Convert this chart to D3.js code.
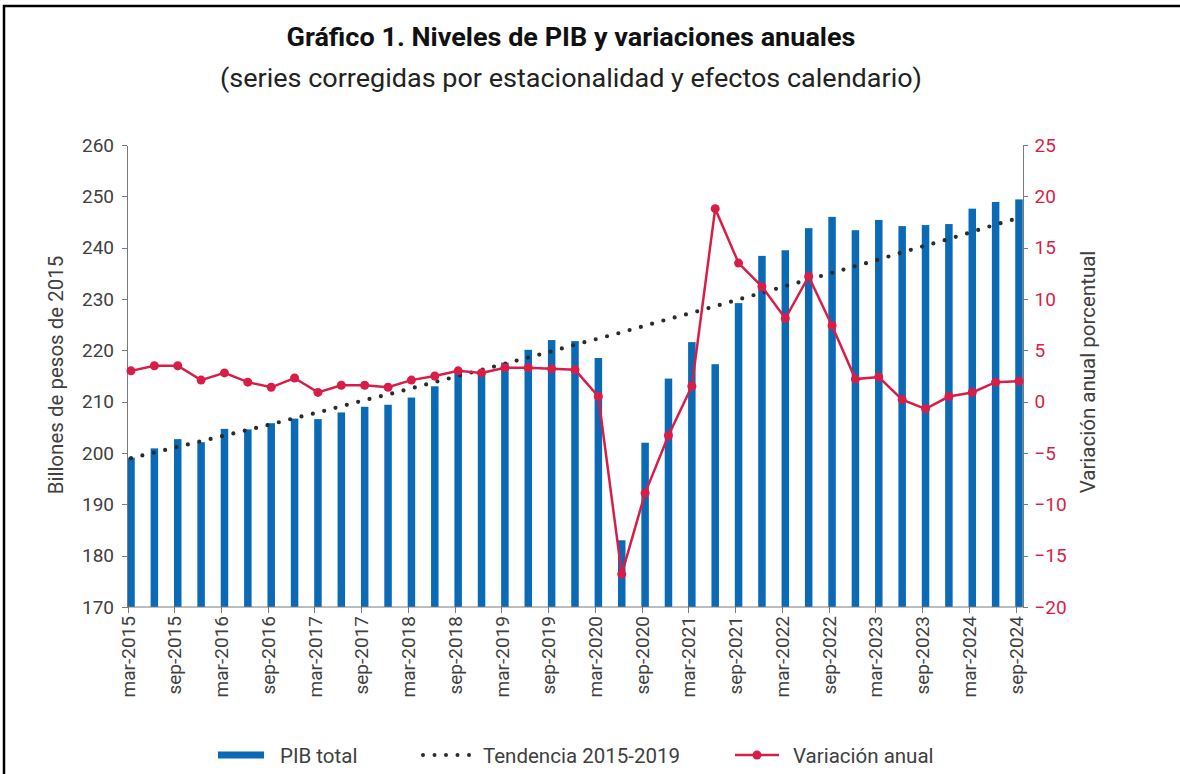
<!DOCTYPE html>
<html lang="es">
<head>
<meta charset="UTF-8">
<title>Niveles de PIB y variaciones anuales</title>
<script src="https://cdn.jsdelivr.net/npm/d3@7"></script>
<style>
    body { margin: 0; background: #fff; font-family: Roboto, sans-serif; }
    .axis path, .axis line { stroke: #7a7a7a; shape-rendering: crispEdges; }
    .axis text { fill: #404040; font-size: 19px; font-family: Roboto, sans-serif; }
    .axis.right text { fill: #d81e48; }
    .lbl { fill: #404040; font-family: Roboto, sans-serif; }
</style>
</head>
<body>
<div id="chart"></div>
<script>
// trimestres (mar, jun, sep, dic) 2015 - sep 2024
var quarters = [
    "mar-2015","jun-2015","sep-2015","dic-2015",
    "mar-2016","jun-2016","sep-2016","dic-2016",
    "mar-2017","jun-2017","sep-2017","dic-2017",
    "mar-2018","jun-2018","sep-2018","dic-2018",
    "mar-2019","jun-2019","sep-2019","dic-2019",
    "mar-2020","jun-2020","sep-2020","dic-2020",
    "mar-2021","jun-2021","sep-2021","dic-2021",
    "mar-2022","jun-2022","sep-2022","dic-2022",
    "mar-2023","jun-2023","sep-2023","dic-2023",
    "mar-2024","jun-2024","sep-2024"
];

// PIB total, billones de pesos de 2015
var pib = [
    199.1, 200.9, 202.7, 202.1, 204.7, 204.6, 205.8, 206.7, 206.6, 207.9,
    209.0, 209.4, 210.8, 213.0, 216.2, 216.0, 217.6, 220.1, 222.0, 221.8,
    218.5, 183.0, 202.0, 214.5, 221.6, 217.3, 229.2, 238.4, 239.5, 243.8,
    246.0, 243.4, 245.4, 244.2, 244.4, 244.6, 247.6, 248.9, 249.4
];

// Tendencia 2015-2019
var tendencia = [
    199.0, 200.1, 201.2, 202.3, 203.4, 204.5, 205.6, 206.8, 207.9, 209.1,
    210.3, 211.4, 212.6, 213.8, 215.0, 216.2, 217.4, 218.6, 219.8, 221.1,
    222.3, 223.5, 224.8, 226.1, 227.3, 228.6, 229.9, 231.2, 232.5, 233.8,
    235.1, 236.4, 237.7, 239.1, 240.4, 241.7, 243.1, 244.5, 245.8
];

// Variación anual porcentual
var variacion = [
    3.0, 3.5, 3.5, 2.1, 2.8, 1.9, 1.4, 2.3, 0.9, 1.6,
    1.6, 1.4, 2.1, 2.5, 3.0, 2.8, 3.3, 3.3, 3.2, 3.1,
    0.5, -16.8, -8.9, -3.3, 1.5, 18.8, 13.5, 11.2, 8.1, 12.2,
    7.4, 2.2, 2.4, 0.2, -0.7, 0.5, 0.9, 1.9, 2.0
];

var leftTicks = [170, 180, 190, 200, 210, 220, 230, 240, 250, 260];
var rightTicks = [-20, -15, -10, -5, 0, 5, 10, 15, 20, 25];

var W = 1180, H = 774;
var blue = "#0a6ab6", red = "#d81e48";
var plot = {left: 127, right: 1022.5, top: 145, bottom: 607};

var svg = d3.select("#chart").append("svg")
    .attr("width", W)
    .attr("height", H);

// marco
svg.append("path")
    .attr("d", "M4,774 L4,6 L1180,6")
    .attr("fill", "none")
    .attr("stroke", "#000")
    .attr("stroke-width", 2.5);

var x = d3.scalePoint()
    .domain(quarters)
    .range([131, 1019]);

var yL = d3.scaleLinear().domain([170, 260]).range([plot.bottom, plot.top]);
var yR = d3.scaleLinear().domain([-20, 25]).range([plot.bottom, plot.top]);

// barras
var bw = 7.5;
svg.append("g").selectAll("rect")
    .data(pib)
    .enter().append("rect")
    .attr("x", function (d, i) { return x(quarters[i]) - bw / 2; })
    .attr("y", function (d) { return yL(d); })
    .attr("width", bw)
    .attr("height", function (d) { return yL(170) - yL(d); })
    .attr("fill", blue);

// ejes
svg.append("g")
    .attr("class", "axis")
    .attr("transform", "translate(" + plot.left + ",0)")
    .call(d3.axisLeft(yL).tickValues(leftTicks).tickSize(5).tickSizeOuter(0).tickPadding(8));

svg.append("g")
    .attr("class", "axis right")
    .attr("transform", "translate(" + plot.right + ",0)")
    .call(d3.axisRight(yR).tickValues(rightTicks).tickSize(5).tickSizeOuter(0).tickPadding(7));

svg.append("line")
    .attr("class", "axis")
    .attr("x1", plot.left).attr("x2", plot.right)
    .attr("y1", plot.bottom).attr("y2", plot.bottom)
    .style("stroke", "#7a7a7a");

var xAxis = svg.append("g")
    .attr("class", "axis")
    .attr("transform", "translate(-3.5," + plot.bottom + ")")
    .call(d3.axisBottom(x)
        .tickValues(quarters.filter(function (d, i) { return i % 2 === 0; }))
        .tickSize(6).tickSizeOuter(0));
xAxis.select(".domain").remove();
xAxis.selectAll("text")
    .attr("transform", "rotate(-90)")
    .attr("text-anchor", "end")
    .attr("x", -9)
    .attr("y", 0)
    .attr("dy", "0.35em");

// tendencia punteada
svg.append("path")
    .datum(tendencia)
    .attr("fill", "none")
    .attr("stroke", "#2b2b2b")
    .attr("stroke-width", 4.2)
    .attr("stroke-linecap", "round")
    .attr("stroke-dasharray", "0,11.7")
    .attr("d", d3.line()
        .x(function (d, i) { return x(quarters[i]); })
        .y(function (d) { return yL(d); }));

// variación anual
svg.append("path")
    .datum(variacion)
    .attr("fill", "none")
    .attr("stroke", red)
    .attr("stroke-width", 2.5)
    .attr("d", d3.line()
        .x(function (d, i) { return x(quarters[i]); })
        .y(function (d) { return yR(d); }));

svg.append("g").selectAll("circle")
    .data(variacion)
    .enter().append("circle")
    .attr("cx", function (d, i) { return x(quarters[i]); })
    .attr("cy", function (d) { return yR(d); })
    .attr("r", 4.5)
    .attr("fill", red);

// títulos
svg.append("text")
    .attr("class", "lbl")
    .attr("x", 571).attr("y", 46)
    .attr("text-anchor", "middle")
    .attr("textLength", 569)
    .attr("lengthAdjust", "spacingAndGlyphs")
    .style("font-size", "25px")
    .style("font-weight", "bold")
    .style("fill", "#111")
    .text("Gráfico 1. Niveles de PIB y variaciones anuales");

svg.append("text")
    .attr("class", "lbl")
    .attr("x", 571).attr("y", 87)
    .attr("text-anchor", "middle")
    .attr("textLength", 702)
    .attr("lengthAdjust", "spacingAndGlyphs")
    .style("font-size", "26px")
    .style("fill", "#222")
    .text("(series corregidas por estacionalidad y efectos calendario)");

svg.append("text")
    .attr("class", "lbl")
    .attr("transform", "translate(63,375) rotate(-90)")
    .attr("text-anchor", "middle")
    .style("font-size", "20.5px")
    .text("Billones de pesos de 2015");

svg.append("text")
    .attr("class", "lbl")
    .attr("transform", "translate(1095,372) rotate(-90)")
    .attr("text-anchor", "middle")
    .style("font-size", "20.5px")
    .text("Variación anual porcentual");

// leyenda
var lg = svg.append("g").attr("transform", "translate(0,755)");
lg.append("rect")
    .attr("x", 218).attr("y", -3.5)
    .attr("width", 46).attr("height", 7)
    .attr("fill", blue);
lg.append("text").attr("class", "lbl")
    .attr("x", 280).attr("y", 7.5)
    .style("font-size", "20.5px")
    .text("PIB total");

lg.append("line")
    .attr("x1", 423).attr("x2", 470)
    .attr("stroke", "#2b2b2b")
    .attr("stroke-width", 4)
    .attr("stroke-linecap", "round")
    .attr("stroke-dasharray", "0,11.5");
lg.append("text").attr("class", "lbl")
    .attr("x", 483).attr("y", 7.5)
    .style("font-size", "20.5px")
    .text("Tendencia 2015-2019");

lg.append("line")
    .attr("x1", 735).attr("x2", 779)
    .attr("stroke", red)
    .attr("stroke-width", 2.5);
lg.append("circle")
    .attr("cx", 757).attr("cy", 0).attr("r", 4.5)
    .attr("fill", red);
lg.append("text").attr("class", "lbl")
    .attr("x", 793).attr("y", 7.5)
    .style("font-size", "20.5px")
    .text("Variación anual");
</script>
</body>
</html>
